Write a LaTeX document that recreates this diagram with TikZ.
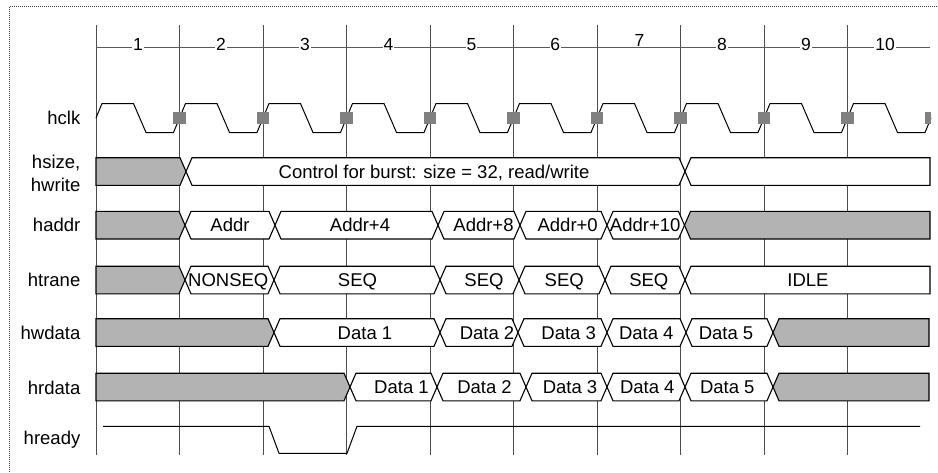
\documentclass[tikz,border=0pt]{standalone}
\usepackage{fontspec}
\setmainfont{Liberation Sans}
\definecolor{busgray}{HTML}{B3B3B3}
\definecolor{sqgray}{HTML}{808080}
\tikzset{
  gridline/.style={black!70, line width=1pt},
  sig/.style={black, line width=1pt, line join=round},
  bus/.style={draw=black, line width=1.1pt, fill=white, line join=miter},
  busg/.style={bus, fill=busgray},
  bustext/.style={anchor=base, inner sep=0pt, font=\fontsize{18.5}{18.5}\selectfont},
  lab/.style={anchor=base east, inner sep=0pt, font=\fontsize{18.5}{18.5}\selectfont},
  num/.style={anchor=base, fill=white, inner sep=0.8pt, font=\fontsize{17.5}{17.5}\selectfont},
}
\def\bw{6}
\def\bh{13.8}
% pointed both ends: y, a, b, style
\newcommand\bseg[4]{\draw[#4] (#2,#1) -- (#2+\bw,#1-\bh) -- (#3-\bw,#1-\bh) -- (#3,#1) -- (#3-\bw,#1+\bh) -- (#2+\bw,#1+\bh) -- cycle;}
% flat left end
\newcommand\bsegL[4]{\draw[#4] (#2,#1-\bh) -- (#3-\bw,#1-\bh) -- (#3,#1) -- (#3-\bw,#1+\bh) -- (#2,#1+\bh) -- cycle;}
% flat right end
\newcommand\bsegR[4]{\draw[#4] (#2,#1) -- (#2+\bw,#1-\bh) -- (#3,#1-\bh) -- (#3,#1+\bh) -- (#2+\bw,#1+\bh) -- cycle;}
\begin{document}
\begin{tikzpicture}[x=1pt, y=-1pt]
\useasboundingbox (0,0) rectangle (938,472);
% frame
\draw[black!75, line width=0.8pt, dash pattern=on 1pt off 1pt] (9.5,472) -- (9.5,6.5) -- (938,6.5);
% vertical grid lines
\foreach \i in {0,...,9} {
  \draw[gridline] ({96+83.5*\i},25) -- ({96+83.5*\i},455);
}
% cycle number line
\draw[black!65, line width=1pt] (96,47) -- (930,47);
\node[num] (n1) at (138,50) {1};
\node[num] (n2) at (221,50) {2};
\node[num] (n3) at (305,50) {3};
\node[num] (n4) at (388.5,50) {4};
\node[num] (n5) at (471.5,50) {5};
\node[num] (n6) at (555.3,50) {6};
\node[num] (n7) at (639.5,46.5) {7};
\node[num] (n8) at (722,50) {8};
\node[num] (n9) at (806,50) {9};
\node[num] (n10) at (885,50) {10};
% labels
\node[lab] (lclk) at (80.5,124) {hclk};
\node[lab] (lsize) at (80.5,168) {hsize,};
\node[lab] (lwrite) at (80.5,191.5) {hwrite};
\node[lab] (laddr) at (80.5,231.7) {haddr};
\node[lab] (ltrane) at (80.5,286) {htrane};
\node[lab] (lwdata) at (80.5,339) {hwdata};
\node[lab] (lrdata) at (80.5,394) {hrdata};
\node[lab] (lready) at (80.5,444) {hready};
% clock
\draw[sig] (96,118) -- (102,103.5) -- (133.5,103.5) -- (146,132.5)
  \foreach \i in {1,...,9} {
    -- ({96+83.5*\i-6},132.5) -- ({96+83.5*\i+6},103.5) -- ({96+83.5*\i+37.5},103.5) -- ({96+83.5*\i+50},132.5)
  } -- (925,132.5) -- (931,118);
\foreach \i in {1,...,9} {
  \fill[sqgray] ({96+83.5*\i-6.3},111.7) rectangle ({96+83.5*\i+6.3},124.3);
}
\fill[sqgray] (924.7,111.7) rectangle (931,124.3);
% hsize / hwrite
\bsegL{171.5}{96}{186}{busg}
\bseg{171.5}{186}{685}{bus}
\bsegR{171.5}{685}{930}{bus}
\node[bustext] (tctl) at (434,178) {Control for burst: size = 32, read/write};
% haddr
\bsegL{225.2}{96}{185}{busg}
\bseg{225.2}{185}{275}{bus}
\bseg{225.2}{275}{438}{bus}
\bseg{225.2}{438}{520}{bus}
\bseg{225.2}{520}{607}{bus}
\bseg{225.2}{607}{684.5}{bus}
\bsegR{225.2}{684.5}{930}{busg}
\node[bustext] (a1) at (230,231.7) {Addr};
\node[bustext] (a2) at (360,231.7) {Addr+4};
\node[bustext] (a3) at (483.5,231.7) {Addr+8};
\node[bustext] (a4) at (567.7,231.7) {Addr+0};
\node[bustext] (a5) at (645.2,231.7) {Addr+10};
% htrane
\bsegL{280}{96}{185}{busg}
\bseg{280}{185}{274}{bus}
\bseg{280}{274}{440}{bus}
\bseg{280}{440}{519}{bus}
\bseg{280}{519}{605}{bus}
\bseg{280}{605}{685}{bus}
\bsegR{280}{685}{930}{bus}
\node[bustext] (t1) at (228.3,286.5) {NONSEQ};
\node[bustext] (t2) at (357.5,286.5) {SEQ};
\node[bustext] (t3) at (484,286.5) {SEQ};
\node[bustext] (t4) at (564.2,286.5) {SEQ};
\node[bustext] (t5) at (648.8,286.5) {SEQ};
\node[bustext] (t6) at (808,286.5) {IDLE};
% hwdata
\bsegL{332.5}{96}{274}{busg}
\bseg{332.5}{274}{440}{bus}
\bseg{332.5}{440}{518}{bus}
\bseg{332.5}{518}{607}{bus}
\bseg{332.5}{607}{686}{bus}
\bseg{332.5}{686}{773}{bus}
\bsegR{332.5}{773}{929}{busg}
\node[bustext] (w1) at (365,339) {Data 1};
\node[bustext] (w2) at (487,339) {Data 2};
\node[bustext] (w3) at (568.7,339) {Data 3};
\node[bustext] (w4) at (646.3,339) {Data 4};
\node[bustext] (w5) at (726,339) {Data 5};
% hrdata
\bsegL{387}{96}{350}{busg}
\bseg{387}{350}{437}{bus}
\bseg{387}{437}{526}{bus}
\bseg{387}{526}{607}{bus}
\bseg{387}{607}{685}{bus}
\bseg{387}{685}{773}{bus}
\bsegR{387}{773}{929}{busg}
\node[bustext] (r1) at (401.5,393.5) {Data 1};
\node[bustext] (r2) at (484.5,393.5) {Data 2};
\node[bustext] (r3) at (570,393.5) {Data 3};
\node[bustext] (r4) at (647.3,393.5) {Data 4};
\node[bustext] (r5) at (727.3,393.5) {Data 5};
% hready
\draw[sig] (103,426.3) -- (269,426.3) -- (279,453.3) -- (347,453.3) -- (357,426.3) -- (920,426.3);
\end{tikzpicture}
\end{document}
